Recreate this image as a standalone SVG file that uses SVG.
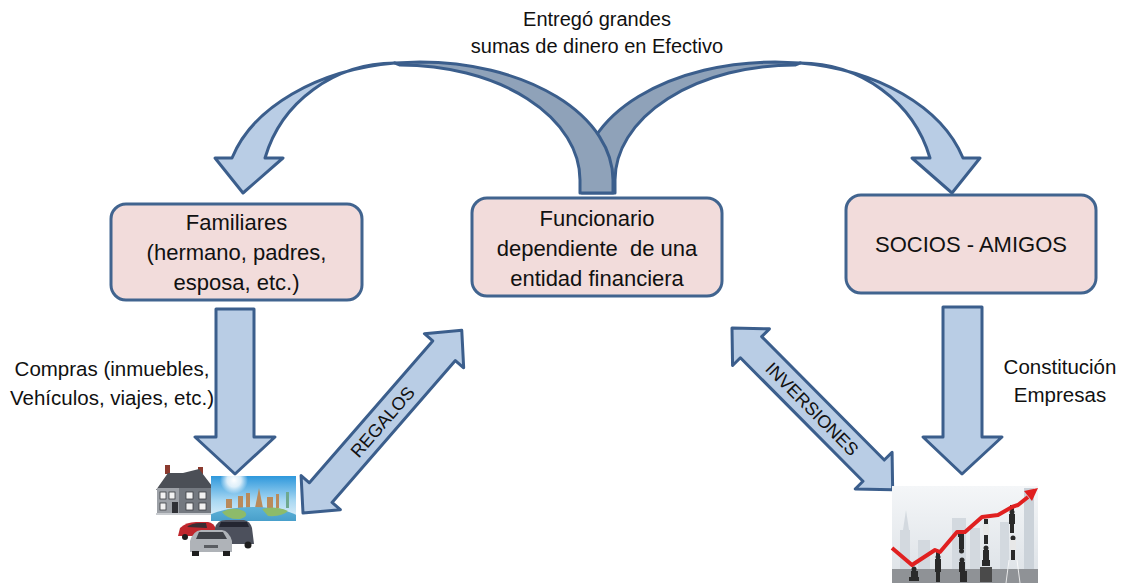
<svg xmlns="http://www.w3.org/2000/svg" width="1125" height="584" viewBox="0 0 1125 584">
<defs>
<style>
.t{font-family:"Liberation Sans",Arial,sans-serif;fill:#111;}
.nt{font-size:22px;text-anchor:middle;}
.st{font-size:20.5px;text-anchor:middle;}
.dt{font-size:18px;text-anchor:middle;}
.node rect{fill:#F2DCDB;stroke:#41648F;stroke-width:3;}
.lt{fill:#B9CDE5;stroke:#3B5E8C;stroke-width:3;stroke-linejoin:round;}
.dk{fill:#8FA2B9;stroke:#3B5E8C;stroke-width:3;stroke-linejoin:round;}
</style>
<linearGradient id="sky" x1="0" y1="0" x2="0" y2="1">
<stop offset="0" stop-color="#2E98DC"/><stop offset="0.55" stop-color="#A9D8F2"/><stop offset="1" stop-color="#E6F3FA"/>
</linearGradient>
<radialGradient id="sun" cx="0.5" cy="0.5" r="0.5">
<stop offset="0" stop-color="#FFFFFF"/><stop offset="0.5" stop-color="#FFFFFF" stop-opacity="0.8"/><stop offset="1" stop-color="#FFFFFF" stop-opacity="0"/>
</radialGradient>
<linearGradient id="bg2" x1="0" y1="0" x2="0" y2="1">
<stop offset="0" stop-color="#F4F6F8"/><stop offset="1" stop-color="#DCE1E6"/>
</linearGradient>
<linearGradient id="sea" x1="0" y1="0" x2="0" y2="1">
<stop offset="0" stop-color="#5FB3D9"/><stop offset="1" stop-color="#2C86B8"/>
</linearGradient>
<clipPath id="travelClip"><rect x="211" y="476" width="85" height="45"/></clipPath>
</defs>
<rect width="1125" height="584" fill="#FFFFFF"/>

<g id="connectors">
 <g id="arrow-socios-curve" transform="matrix(-1 0 0 1 1195 0)">
  <path class="dk" d="M395,63 L420,62 A193 118 0 0 1 613,180 L613,193 L580,193 L580,180 A180 115 0 0 0 400,65 Z"/>
  <path class="lt" d="M232,158 L215,158 L243,193 L283,158 L265,158 A135 130 0 0 1 395,63 A195 131 0 0 0 232,158 Z"/>
 </g>
 <g id="arrow-familiares-curve">
  <path class="dk" d="M395,63 L420,62 A193 118 0 0 1 613,180 L613,193 L580,193 L580,180 A180 115 0 0 0 400,65 Z"/>
  <path class="lt" d="M232,158 L215,158 L243,193 L283,158 L265,158 A135 130 0 0 1 395,63 A195 131 0 0 0 232,158 Z"/>
 </g>
 <path id="arrow-compras" class="lt" d="M216,309 L254,309 L254,437 L275,437 L235,474 L195,437 L216,437 Z"/>
 <path id="arrow-empresas" class="lt" d="M943,307 L982,307 L982,437 L1002,437 L962,474 L923,437 L943,437 Z"/>
 <g id="arrow-regalos" transform="translate(303,513) rotate(-49)">
  <path class="lt" d="M0,0 L27,-26 L27,-15 L215,-15 L215,-26 L242,0 L215,26 L215,15 L27,15 L27,26 Z"/>
  <text class="t dt" x="121" y="6.5">REGALOS</text>
 </g>
 <g id="arrow-inversiones" transform="translate(732,328) rotate(45.2)">
  <path class="lt" d="M0,0 L27,-26 L27,-15 L201,-15 L201,-26 L228,0 L201,26 L201,15 L27,15 L27,26 Z"/>
  <text class="t dt" x="114" y="6.5">INVERSIONES</text>
 </g>
</g>

<g id="label-efectivo">
 <text class="t st" x="597" y="26" style="font-size:20px">Entregó grandes</text>
 <text class="t st" x="597" y="53" style="font-size:20px">sumas de dinero en Efectivo</text>
</g>
<g id="label-compras">
 <text class="t st" x="112" y="376">Compras (inmuebles,</text>
 <text class="t st" x="112" y="405">Vehículos, viajes, etc.)</text>
</g>
<g id="label-constitucion">
 <text class="t st" x="1060" y="374">Constitución</text>
 <text class="t st" x="1060" y="402">Empresas</text>
</g>

<g id="node-familiares" class="node">
 <rect x="111" y="204" width="251" height="96" rx="15"/>
 <text class="t nt" x="236.5" y="230">Familiares</text>
 <text class="t nt" x="236.5" y="260">(hermano, padres,</text>
 <text class="t nt" x="236.5" y="290">esposa, etc.)</text>
</g>
<g id="node-funcionario" class="node">
 <rect x="472" y="198" width="250" height="98" rx="15"/>
 <text class="t nt" x="597" y="226">Funcionario</text>
 <text class="t nt" x="597" y="256" xml:space="preserve">dependiente  de una</text>
 <text class="t nt" x="597" y="286">entidad financiera</text>
</g>
<g id="node-socios" class="node">
 <rect x="846" y="195" width="250" height="98" rx="15"/>
 <text class="t nt" x="971" y="252">SOCIOS - AMIGOS</text>
</g>

<g id="img-compras">
 <!-- house -->
 <rect x="165" y="465" width="5" height="9" fill="#8B3A2E"/>
 <rect x="198" y="467" width="5" height="7" fill="#8B3A2E"/>
 <polygon points="156,490 168,473 183,473 199,469 212,486 212,490" fill="#4B4F56"/>
 <rect x="157" y="488" width="54" height="27" fill="#747980"/>
 <rect x="157" y="488" width="22" height="27" fill="#9DA1A7"/>
 <g fill="#F2F2F2" stroke="#3A3D42" stroke-width="0.8">
  <rect x="160" y="492" width="6" height="7"/><rect x="169" y="492" width="6" height="7"/>
  <rect x="186" y="492" width="7" height="7"/><rect x="199" y="492" width="7" height="7"/>
  <rect x="160" y="503" width="6" height="7"/><rect x="186" y="503" width="7" height="7"/><rect x="199" y="503" width="7" height="7"/>
 </g>
 <rect x="172" y="502" width="6" height="13" fill="#2E3035"/>
 <rect x="156" y="513" width="56" height="2" fill="#C9CCD0"/>
 <!-- travel -->
 <g clip-path="url(#travelClip)">
  <rect x="211" y="476" width="85" height="45" fill="url(#sky)"/>
  <circle cx="234" cy="480" r="14" fill="url(#sun)"/>
  <g fill="#B98A5A">
   <rect x="238" y="496" width="5" height="12"/><rect x="246" y="493" width="4" height="15"/>
   <polygon points="259,488 255,508 263,508"/><rect x="267" y="497" width="6" height="11"/>
   <rect x="276" y="494" width="3" height="14"/><rect x="286" y="492" width="3" height="16" fill="#6FA98F"/>
   <rect x="226" y="499" width="6" height="9"/>
  </g>
  <ellipse cx="253" cy="523" rx="50" ry="16" fill="url(#sea)"/>
  <path d="M222,512 Q232,506 244,511 Q250,516 240,519 Q228,520 222,512 Z M262,509 Q276,505 288,511 Q282,517 268,516 Z" fill="#8DBB6A"/>
 </g>
 <!-- cars -->
 <path d="M178,536 L180,528 Q186,522 196,522 L208,522 Q214,523 216,529 L216,536 Z" fill="#C0272D"/>
 <path d="M187,527 Q192,523 200,523 L206,523 L207,528 Z" fill="#3A2E33"/>
 <circle cx="185" cy="537" r="3" fill="#1E1E1E"/><circle cx="209" cy="537" r="3" fill="#1E1E1E"/>
 <path d="M214,544 L215,528 Q217,520 226,520 L244,520 Q250,521 252,528 L254,544 Z" fill="#4C505C"/>
 <path d="M219,527 L221,522 L247,522 L249,527 Z" fill="#242631"/>
 <circle cx="220" cy="545" r="3.5" fill="#1E1E1E"/><circle cx="248" cy="545" r="3.5" fill="#1E1E1E"/>
 <path d="M190,552 L190,541 Q193,531 201,530 L222,530 Q229,531 232,541 L232,552 Z" fill="#AFB3B8"/>
 <path d="M196,539 L199,532 L223,532 L227,539 Z" fill="#3F4248"/>
 <rect x="204" y="545" width="14" height="3" fill="#5A5D62"/>
 <rect x="192" y="551" width="7" height="5" fill="#1E1E1E"/><rect x="223" y="551" width="7" height="5" fill="#1E1E1E"/>
</g>

<g id="img-empresas">
 <rect x="892" y="486" width="146" height="97" fill="url(#bg2)"/>
 <g fill="#D3D9DF">
  <rect x="900" y="530" width="10" height="40"/><polygon points="903,530 906,510 909,530"/>
  <rect x="918" y="540" width="12" height="30"/><rect x="952" y="518" width="14" height="52"/>
  <rect x="970" y="528" width="10" height="42"/><rect x="1000" y="522" width="9" height="48"/>
  <rect x="1024" y="488" width="10" height="82" fill="#CBD2D9"/>
 </g>
 <rect x="892" y="569" width="146" height="14" fill="#8F9296"/>
 <g fill="#2A2A2A">
  <circle cx="914" cy="569" r="2.5"/><rect x="911" y="571" width="7" height="7"/><rect x="909" y="577" width="10" height="4"/>
  <circle cx="938" cy="557" r="2.5"/><rect x="935" y="559" width="6" height="13"/><rect x="936" y="571" width="4" height="11"/>
  <rect x="936" y="552" width="4" height="4"/>
  <rect x="958" y="533" width="6" height="4"/><rect x="959" y="537" width="5" height="12"/><circle cx="961.5" cy="551" r="2.5"/>
  <circle cx="962" cy="560" r="2.5"/><rect x="959" y="562" width="6" height="10"/><rect x="960" y="571" width="7" height="11"/>
  <rect x="980" y="567" width="12" height="15" fill="#4A4A4A"/>
  <circle cx="986" cy="548" r="2.5"/><rect x="983" y="550" width="6" height="10"/><rect x="982" y="560" width="8" height="6"/>
  <rect x="984" y="519" width="4" height="5"/><rect x="983" y="524" width="6" height="11" fill="#E8E8E8"/><rect x="984" y="535" width="4" height="9"/>
  <rect x="1010" y="505" width="4" height="5"/><circle cx="1012" cy="512" r="2.5"/><rect x="1009" y="514" width="6" height="10"/><rect x="1010" y="524" width="4" height="9"/>
  <circle cx="1013" cy="538" r="2.5"/><rect x="1010" y="540" width="6" height="10" fill="#E8E8E8"/><rect x="1011" y="550" width="4" height="10"/>
 </g>
 <g stroke="#FFFFFF" stroke-width="1" opacity="0.8">
  <line x1="1006" y1="583" x2="1009" y2="560"/><line x1="1020" y1="583" x2="1017" y2="560"/>
 </g>
 <polyline points="892,548 912,565 935,550 940,552 957,532 965,532 982,517 998,515 1012,507 1018,505 1028,497" fill="none" stroke="#E02020" stroke-width="4" stroke-linejoin="round"/>
 <polygon points="1038,488 1024,491 1032,501" fill="#E02020"/>
</g>
</svg>
